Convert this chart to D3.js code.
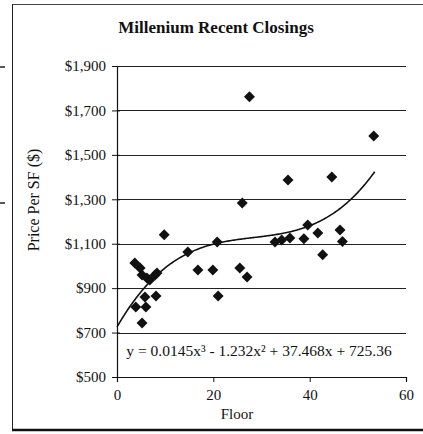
<!DOCTYPE html>
<html><head><meta charset="utf-8">
<script src="https://cdn.jsdelivr.net/npm/d3@7"></script>
<style>
html,body{margin:0;padding:0;background:#fff;}
svg{display:block;}
text{font-family:"Liberation Serif","Times New Roman",serif;fill:#111;}
</style></head>
<body>
<svg id="c" width="423" height="434"></svg>
<script>
// Data
const floors = [3.7,4.8,5.2,6.2,6.8,7.9,8.3,9.8,14.7,16.8,19.9,20.8,21.0,5.8,8.1,3.9,6.0,5.2,25.5,27.0,26.0,27.5,32.8,34.2,35.9,35.5,38.8,39.6,41.7,42.7,44.6,46.3,46.8,53.3];
const prices = [1013,991,959,946,937,959,968,1140,1063,982,982,1108,865,860,865,815,815,743,991,950,1283,1762,1108,1117,1126,1387,1122,1184,1148,1050,1400,1162,1110,1585];
const trendCoef = [725.36, 37.468, -1.232, 0.0145]; // c0 + c1 x + c2 x^2 + c3 x^3
const trendRange = [0, 53.5];
const xTicks = [0,20,40,60];
const yTicks = [500,700,900,1100,1300,1500,1700,1900];
const title = "Millenium Recent Closings";
const xLabel = "Floor";
const yLabel = "Price Per SF ($)";
const equation = "y = 0.0145x\u00B3 - 1.232x\u00B2 + 37.468x + 725.36";

const svg = d3.select("#c");
const x = d3.scaleLinear().domain([0,60]).range([117,406]);
const y = d3.scaleLinear().domain([500,1900]).range([377,66]);

// outer frame (scanned page edges)
svg.append("line").attr("x1",12).attr("x2",423).attr("y1",4.5).attr("y2",4.5).attr("stroke","#444").attr("stroke-width",1);
svg.append("line").attr("x1",12.5).attr("x2",12.5).attr("y1",4).attr("y2",430).attr("stroke","#222").attr("stroke-width",1);
svg.append("line").attr("x1",12).attr("x2",423).attr("y1",430).attr("y2",430).attr("stroke","#111").attr("stroke-width",2.5);
svg.append("line").attr("x1",0).attr("x2",5).attr("y1",67).attr("y2",67).attr("stroke","#222").attr("stroke-width",1.5);
svg.append("line").attr("x1",0).attr("x2",5).attr("y1",203).attr("y2",203).attr("stroke","#222").attr("stroke-width",1.5);

// gridlines
svg.append("g").selectAll("line").data(yTicks.filter(d=>d>500)).join("line")
  .attr("x1",x(0)).attr("x2",x(60)).attr("y1",d=>Math.round(y(d))+0.5).attr("y2",d=>Math.round(y(d))+0.5)
  .attr("stroke","#222").attr("stroke-width",1);

// axes
const yAxis = d3.axisLeft(y).tickValues(yTicks).tickSize(5).tickFormat(d=>"$"+d3.format(",")(d));
const gy = svg.append("g").attr("transform",`translate(${x(0)},0)`).call(yAxis);
gy.select(".domain").attr("stroke","#111").attr("stroke-width",1.2);
gy.selectAll(".tick line").attr("stroke","#111").attr("x2",-5).attr("x1",3);
gy.selectAll(".tick text").attr("x",-11).style("font-size","15px").style("font-family","Liberation Serif").attr("fill","#111");

const xAxis = d3.axisBottom(x).tickValues(xTicks).tickSize(5).tickFormat(d3.format("d"));
const gx = svg.append("g").attr("transform",`translate(0,${y(500)})`).call(xAxis);
gx.select(".domain").attr("stroke","#111").attr("stroke-width",1.2);
gx.selectAll(".tick line").attr("stroke","#111");
gx.selectAll(".tick text").attr("y",12).style("font-size","15px").style("font-family","Liberation Serif").attr("fill","#111");

// trendline
const xs = d3.range(trendRange[0], trendRange[1]+0.001, 0.25);
const poly = v => trendCoef.reduce((s,c,i)=>s + c*Math.pow(v,i), 0);
svg.append("path").datum(xs)
  .attr("d", d3.line().x(d=>x(d)).y(d=>y(poly(d))).curve(d3.curveLinear))
  .attr("fill","none").attr("stroke","#111").attr("stroke-width",1.6);

// points
const pts = floors.map((f,i)=>({f, p:prices[i]}));
svg.append("g").selectAll("path").data(pts).join("path")
  .attr("d", d3.symbol().type(d3.symbolSquare).size(60))
  .attr("transform", d=>`translate(${x(d.f)},${y(d.p)}) rotate(45)`)
  .attr("fill","#111");

// texts
svg.append("text").attr("x",216).attr("y",33).attr("text-anchor","middle")
  .style("font-size","17px").style("font-weight","bold").text(title);
svg.append("text").attr("x",237).attr("y",419).attr("text-anchor","middle")
  .style("font-size","15px").text(xLabel);
svg.append("text").attr("transform","translate(39,200) rotate(-90)").attr("text-anchor","middle")
  .style("font-size","16px").text(yLabel);
svg.append("text").attr("x",259).attr("y",356).attr("text-anchor","middle")
  .style("font-size","15.5px").text(equation);
</script>
</body></html>
